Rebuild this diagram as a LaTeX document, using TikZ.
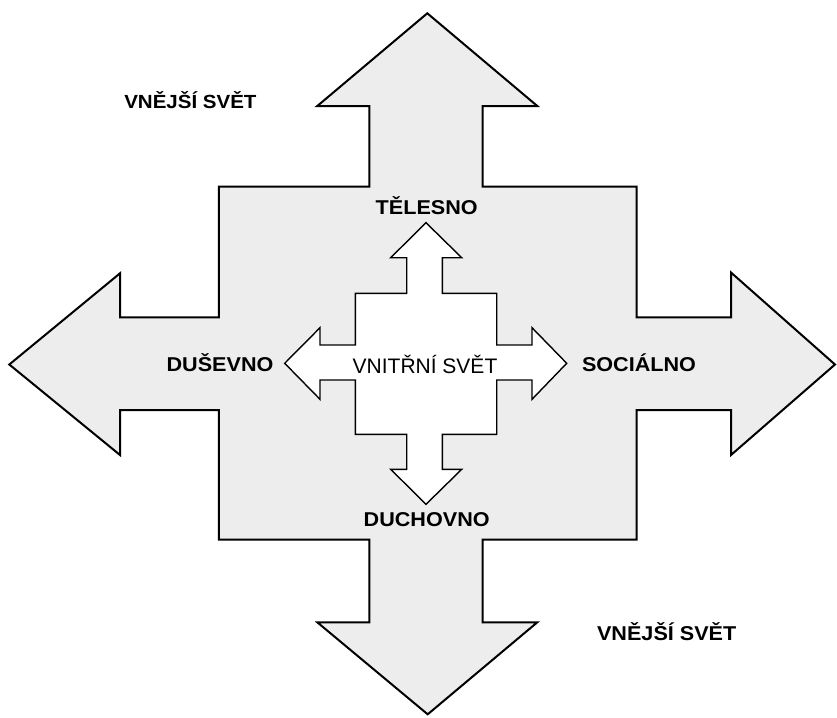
\documentclass[tikz,border=0pt]{standalone}
\usepackage{fontspec}
\setmainfont{Liberation Sans}
\newfontfamily\labfont[FakeStretch=1.08]{Liberation Sans Bold}
\definecolor{armfill}{RGB}{237,237,237}
\begin{document}
\begin{tikzpicture}[x=1pt,y=-1pt,
  outerarrow/.style={draw=black,line width=2pt,fill=armfill,line join=miter},
  innerarrow/.style={draw=black,line width=1.4pt,fill=white,line join=miter},
  lab/.style={font=\fontsize{20}{24}\labfont,inner sep=0pt,anchor=center},
  inlab/.style={font=\fontsize{21}{25}\selectfont,inner sep=0pt,anchor=center}]
\useasboundingbox[fill=white] (0,0) rectangle (837,717);
% outer cross arrow
\draw[outerarrow] (427.3,13.3) -- (537.3,106) -- (482.7,106) -- (482.7,186.7) -- (636.5,186.7) -- (636.5,317.3) -- (731,317.3) -- (731,272.5) -- (835,364.5) -- (731,455) -- (731,410) -- (636.5,410) -- (636.5,539.5) -- (482.7,539.5) -- (482.7,622.3) -- (537.3,622.3) -- (427.7,714.3) -- (317.3,622.3) -- (369.3,622.3) -- (369.3,539.5) -- (218.8,539.5) -- (218.8,410) -- (120,410) -- (120,455) -- (9.3,364.5) -- (120,273.3) -- (120,317.3) -- (218.8,317.3) -- (218.8,186.7) -- (369.3,186.7) -- (369.3,106) -- (317.3,106) -- cycle;
% inner cross arrow
\draw[innerarrow] (426,222.7) -- (461.7,257.7) -- (442.3,257.7) -- (442.3,293.3) -- (496.7,293.3) -- (496.7,345) -- (532,345) -- (532,327.7) -- (566.7,363.3) -- (532,399.3) -- (532,380) -- (496.7,380) -- (496.7,434.3) -- (442.3,434.3) -- (442.3,469.3) -- (461.7,469.3) -- (426,504.3) -- (390.7,469.3) -- (406.7,469.3) -- (406.7,434.3) -- (355.3,434.3) -- (355.3,380) -- (320,380) -- (320,399.3) -- (284.7,363.3) -- (320,327.7) -- (320,345) -- (355.3,345) -- (355.3,293.3) -- (406.7,293.3) -- (406.7,257.7) -- (390.7,257.7) -- cycle;
% labels
\node[lab,font=\fontsize{19}{24}\labfont] (outtl) at (190.4,99.7) {\vphantom{E}VNĚJŠÍ SVĚT};
\node[lab] (outbr) at (666.7,632) {\vphantom{E}VNĚJŠÍ SVĚT};
\node[lab] (tel) at (426.7,206) {TĚLESNO};
\node[lab] (dus) at (220,363) {DUŠEVNO};
\node[lab] (soc) at (639,363) {SOCIÁLNO};
\node[lab] (duch) at (426.7,520) {DUCHOVNO};
\node[inlab] (vnit) at (425,364) {VNITŘNÍ SVĚT};
\end{tikzpicture}
\end{document}
